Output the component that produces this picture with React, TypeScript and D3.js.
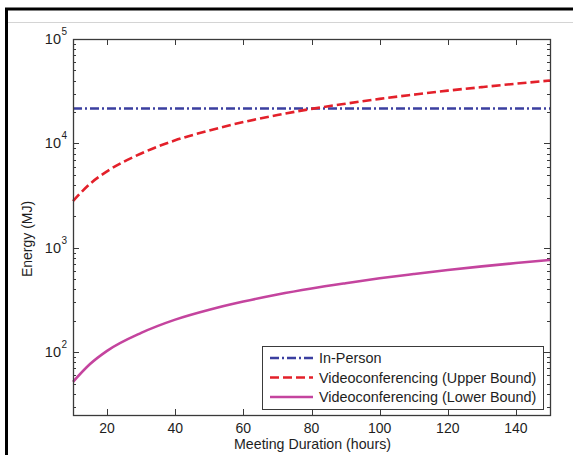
import React, { useRef, useEffect } from "react";
import * as d3 from "d3";

// meeting duration (hours)
const durations = [10, 15, 20, 30, 40, 50, 60, 70, 80, 90, 100, 110, 120, 130, 140, 150];
// energy (MJ)
const inPerson = [21600, 21600, 21600, 21600, 21600, 21600, 21600, 21600, 21600, 21600, 21600, 21600, 21600, 21600, 21600, 21600];
const videoUpper = [2800, 4100, 5400, 8000, 10700, 13300, 16000, 18700, 21400, 24000, 26700, 29300, 32000, 34600, 37300, 40000];
const videoLower = [52, 77, 103, 153, 205, 255, 305, 357, 408, 458, 510, 560, 612, 663, 714, 765];

const xTicks = [20, 40, 60, 80, 100, 120, 140];
const yExponents = [2, 3, 4, 5];
const seriesNames = ["In-Person", "Videoconferencing (Upper Bound)", "Videoconferencing (Lower Bound)"];

const W = 573;
const H = 455;

export default function App() {
  const svgRef = useRef<SVGSVGElement>(null);

  useEffect(() => {
    const svg = d3.select(svgRef.current);
    svg.selectAll("*").remove();

    const margin = { top: 39, right: 23, bottom: 40, left: 73 };
    const innerW = W - margin.left - margin.right;
    const innerH = H - margin.top - margin.bottom;
    const font = "Liberation Sans, Arial, sans-serif";
    const axisColor = "#3a3a3a";
    const textColor = "#1e1e1e";

    svg.append("rect").attr("width", W).attr("height", H).attr("fill", "#fff");

    // page frame
    svg.append("line").attr("x1", 6.5).attr("x2", 6.5).attr("y1", 8).attr("y2", H).attr("stroke", "#000").attr("stroke-width", 3);
    svg.append("line").attr("x1", 5).attr("x2", W).attr("y1", 9).attr("y2", 9).attr("stroke", "#000").attr("stroke-width", 3);
    svg.append("line").attr("x1", 8).attr("x2", W).attr("y1", 22.5).attr("y2", 22.5).attr("stroke", "#d4d4d4").attr("stroke-width", 1);

    const g = svg.append("g").attr("transform", `translate(${margin.left},${margin.top})`);

    const x = d3.scaleLinear().domain([10, 150]).range([0, innerW]);
    const y = d3.scaleLog().domain([25, 100000]).range([innerH, 0]);

    // ticks (box with ticks on all sides)
    const ticks = g.append("g").attr("stroke", axisColor).attr("stroke-width", 1);
    xTicks.forEach((t) => {
      const px = Math.round(x(t)) + 0.5;
      ticks.append("line").attr("x1", px).attr("x2", px).attr("y1", innerH).attr("y2", innerH - 6);
      ticks.append("line").attr("x1", px).attr("x2", px).attr("y1", 0).attr("y2", 6);
    });
    const minor: number[] = [];
    for (let e = 1; e <= 4; e++) for (let m = 2; m <= 9; m++) {
      const v = m * Math.pow(10, e);
      if (v >= 25) minor.push(v);
    }
    minor.forEach((v) => {
      const py = Math.round(y(v)) + 0.5;
      ticks.append("line").attr("x1", 0).attr("x2", 3).attr("y1", py).attr("y2", py);
      ticks.append("line").attr("x1", innerW).attr("x2", innerW - 3).attr("y1", py).attr("y2", py);
    });
    yExponents.forEach((e) => {
      const py = Math.round(y(Math.pow(10, e))) + 0.5;
      ticks.append("line").attr("x1", 0).attr("x2", 6).attr("y1", py).attr("y2", py);
      ticks.append("line").attr("x1", innerW).attr("x2", innerW - 6).attr("y1", py).attr("y2", py);
    });

    // series
    const rows = durations.map((d, i) => ({ d, a: inPerson[i], u: videoUpper[i], l: videoLower[i] }));
    const line = (key: "a" | "u" | "l") =>
      d3.line<typeof rows[number]>().x((r) => x(r.d)).y((r) => y(r[key])).curve(d3.curveMonotoneX)(rows);

    const styles = [
      { key: "a" as const, color: "#3b3fa0", dash: "9,3,2,3" },
      { key: "u" as const, color: "#e3202a", dash: "9,4" },
      { key: "l" as const, color: "#c4449e", dash: null as string | null },
    ];
    const plot = g.append("g");
    styles.forEach((s) => {
      plot.append("path").attr("d", line(s.key)).attr("fill", "none").attr("stroke", s.color)
        .attr("stroke-width", 2.6).attr("stroke-dasharray", s.dash);
    });

    // axis box
    g.append("rect").attr("x", 0.5).attr("y", 0.5).attr("width", innerW).attr("height", innerH)
      .attr("fill", "none").attr("stroke", axisColor).attr("stroke-width", 1.3);

    // x tick labels
    xTicks.forEach((t) => {
      g.append("text").attr("x", x(t)).attr("y", innerH + 18).attr("text-anchor", "middle")
        .attr("font-family", font).attr("font-size", 14).attr("fill", textColor).text(t);
    });
    g.append("text").attr("x", innerW / 2 + 1).attr("y", innerH + 34).attr("text-anchor", "middle")
      .attr("font-family", font).attr("font-size", 14.2).attr("fill", textColor).text("Meeting Duration (hours)");

    // y tick labels 10^e
    yExponents.forEach((e) => {
      const py = y(Math.pow(10, e));
      g.append("text").attr("x", -12).attr("y", py + 5).attr("text-anchor", "end")
        .attr("font-family", font).attr("font-size", 14.5).attr("fill", textColor).text("10");
      g.append("text").attr("x", -11.5).attr("y", py - 4).attr("font-family", font)
        .attr("font-size", 10).attr("fill", textColor).text(e);
    });
    g.append("text").attr("transform", `translate(-41,${innerH / 2 + 12}) rotate(-90)`)
      .attr("text-anchor", "middle").attr("font-family", font).attr("font-size", 14)
      .attr("fill", textColor).text("Energy (MJ)");

    // legend
    const lg = g.append("g").attr("transform", `translate(${262 - margin.left},${346 - margin.top})`);
    lg.append("rect").attr("x", 0.5).attr("y", 0.5).attr("width", 281).attr("height", 63)
      .attr("fill", "#fff").attr("stroke", axisColor).attr("stroke-width", 1);
    styles.forEach((s, i) => {
      const ly = 12 + i * 19.5;
      lg.append("line").attr("x1", 8).attr("x2", 51).attr("y1", ly).attr("y2", ly)
        .attr("stroke", s.color).attr("stroke-width", 2.6).attr("stroke-dasharray", s.dash);
      lg.append("text").attr("x", 57).attr("y", ly + 5).attr("font-family", font).attr("font-size", 14.4)
        .attr("fill", textColor).text(seriesNames[i]);
    });
  }, []);

  return <svg ref={svgRef} width={W} height={H} style={{ position: "absolute", left: 0, top: 0 }} />;
}
